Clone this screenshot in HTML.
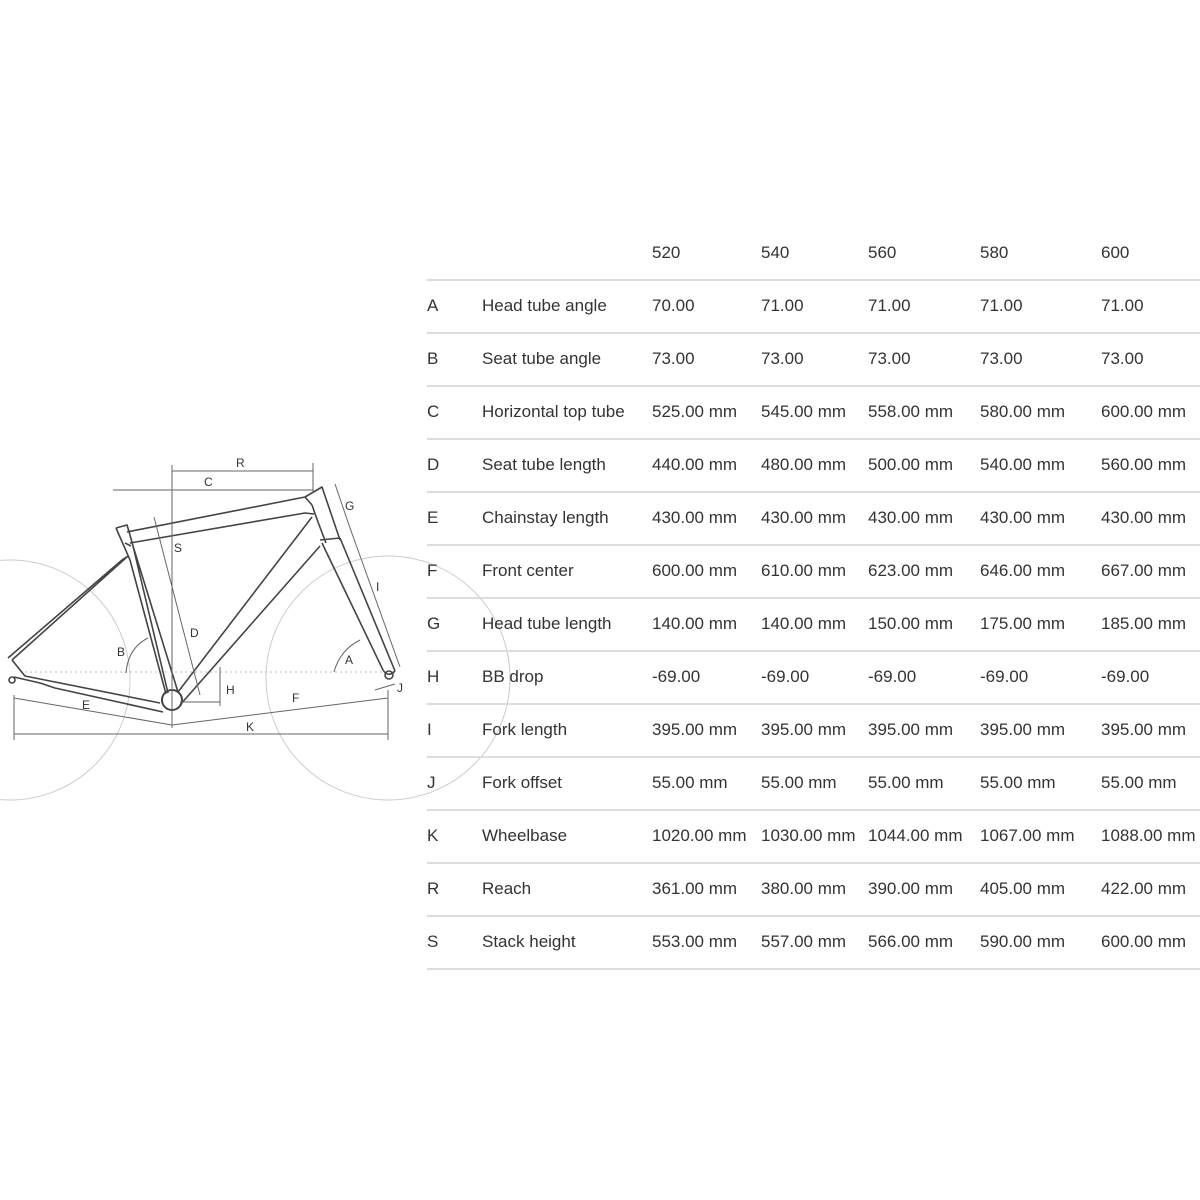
<!DOCTYPE html>
<html><head><meta charset="utf-8"><style>html,body{margin:0;padding:0;background:#fff}svg{display:block}</style></head>
<body>
<svg width="1200" height="1200" viewBox="0 0 1200 1200" xmlns="http://www.w3.org/2000/svg">
<g fill="none" stroke="#ccc" stroke-width="1">
<circle cx="10" cy="680" r="120"/>
<circle cx="388" cy="678" r="122"/>
</g>
<line x1="20" y1="672" x2="395" y2="672" stroke="#bbb" stroke-dasharray="2,3"/>
<g fill="none" stroke="#444" stroke-width="1.6" stroke-linejoin="round">
<!-- seat stay -->
<path d="M8,658 L122,560 L128,556 L12,660"/>
<!-- chainstay -->
<path d="M12,660 L25,676 L160,703 M14,677 L40,683 L55,688 L163,712"/>
<!-- seat tube -->
<path d="M116,528 L127,525 L130,535 L133,546 L168,693 M125,543 L131,546 M133,546 L178,692"/>
<path d="M116,528 L130,560 L166,694"/>
<!-- top tube -->
<path d="M127,532 L305,497 L312,505 M130,543 L305,513 L314,514"/>
<!-- head tube -->
<path d="M305,497 L322,487 L340,540 M312,505 L318,522 L326,543 M320,540 L340,538"/>
<!-- down tube -->
<path d="M178,692 L312,517 M180,705 L320,546"/>
<!-- fork -->
<path d="M322,543 L383,670 M340,538 L395,671 M383,670 Q388,678 395,671"/>
<circle cx="389" cy="675" r="4"/>
<circle cx="172" cy="700" r="10" stroke-width="2"/>
<circle cx="12" cy="680" r="3"/>
</g>
<g fill="none" stroke="#666" stroke-width="1">
<line x1="172" y1="465" x2="172" y2="728"/>
<line x1="172" y1="471" x2="313" y2="471"/>
<line x1="313" y1="463" x2="313" y2="492"/>
<line x1="113" y1="490" x2="313" y2="490"/>
<line x1="14" y1="695" x2="14" y2="740"/>
<line x1="388" y1="690" x2="388" y2="740"/>
<line x1="14" y1="734" x2="388" y2="734"/>
<line x1="14" y1="698" x2="172" y2="725"/>
<line x1="172" y1="725" x2="388" y2="698"/>
<line x1="154" y1="517" x2="200" y2="695"/>
<line x1="220" y1="667" x2="220" y2="706"/>
<line x1="180" y1="702" x2="220" y2="702"/>
<line x1="335" y1="484" x2="350" y2="528"/>
<line x1="350" y1="528" x2="400" y2="667"/>
<line x1="375" y1="690" x2="395" y2="684"/>
<path d="M126,673 Q128,648 148,638"/>
<path d="M334,672 Q340,650 360,640"/>
</g>
<g font-family="Liberation Sans, sans-serif" font-size="12" fill="#333">
<text x="236" y="467">R</text><text x="204" y="486">C</text><text x="345" y="510">G</text>
<text x="174" y="552">S</text><text x="376" y="591">I</text><text x="190" y="637">D</text>
<text x="117" y="656">B</text><text x="345" y="664">A</text><text x="226" y="694">H</text>
<text x="292" y="702">F</text><text x="397" y="692">J</text><text x="82" y="709">E</text>
<text x="246" y="731">K</text>
</g>
<g stroke="#ddd" stroke-width="2">
<line x1="427" y1="280" x2="1200" y2="280"/><line x1="427" y1="333" x2="1200" y2="333"/>
<line x1="427" y1="386" x2="1200" y2="386"/><line x1="427" y1="439" x2="1200" y2="439"/>
<line x1="427" y1="492" x2="1200" y2="492"/><line x1="427" y1="545" x2="1200" y2="545"/>
<line x1="427" y1="598" x2="1200" y2="598"/><line x1="427" y1="651" x2="1200" y2="651"/>
<line x1="427" y1="704" x2="1200" y2="704"/><line x1="427" y1="757" x2="1200" y2="757"/>
<line x1="427" y1="810" x2="1200" y2="810"/><line x1="427" y1="863" x2="1200" y2="863"/>
<line x1="427" y1="916" x2="1200" y2="916"/><line x1="427" y1="969" x2="1200" y2="969"/>
</g>
<g font-family="Liberation Sans, sans-serif" font-size="17" fill="#333">
<text y="258"><tspan x="652">520</tspan><tspan x="761">540</tspan><tspan x="868">560</tspan><tspan x="980">580</tspan><tspan x="1101">600</tspan></text>
<text y="311"><tspan x="427">A</tspan><tspan x="482">Head tube angle</tspan><tspan x="652">70.00</tspan><tspan x="761">71.00</tspan><tspan x="868">71.00</tspan><tspan x="980">71.00</tspan><tspan x="1101">71.00</tspan></text>
<text y="364"><tspan x="427">B</tspan><tspan x="482">Seat tube angle</tspan><tspan x="652">73.00</tspan><tspan x="761">73.00</tspan><tspan x="868">73.00</tspan><tspan x="980">73.00</tspan><tspan x="1101">73.00</tspan></text>
<text y="417"><tspan x="427">C</tspan><tspan x="482">Horizontal top tube</tspan><tspan x="652">525.00 mm</tspan><tspan x="761">545.00 mm</tspan><tspan x="868">558.00 mm</tspan><tspan x="980">580.00 mm</tspan><tspan x="1101">600.00 mm</tspan></text>
<text y="470"><tspan x="427">D</tspan><tspan x="482">Seat tube length</tspan><tspan x="652">440.00 mm</tspan><tspan x="761">480.00 mm</tspan><tspan x="868">500.00 mm</tspan><tspan x="980">540.00 mm</tspan><tspan x="1101">560.00 mm</tspan></text>
<text y="523"><tspan x="427">E</tspan><tspan x="482">Chainstay length</tspan><tspan x="652">430.00 mm</tspan><tspan x="761">430.00 mm</tspan><tspan x="868">430.00 mm</tspan><tspan x="980">430.00 mm</tspan><tspan x="1101">430.00 mm</tspan></text>
<text y="576"><tspan x="427">F</tspan><tspan x="482">Front center</tspan><tspan x="652">600.00 mm</tspan><tspan x="761">610.00 mm</tspan><tspan x="868">623.00 mm</tspan><tspan x="980">646.00 mm</tspan><tspan x="1101">667.00 mm</tspan></text>
<text y="629"><tspan x="427">G</tspan><tspan x="482">Head tube length</tspan><tspan x="652">140.00 mm</tspan><tspan x="761">140.00 mm</tspan><tspan x="868">150.00 mm</tspan><tspan x="980">175.00 mm</tspan><tspan x="1101">185.00 mm</tspan></text>
<text y="682"><tspan x="427">H</tspan><tspan x="482">BB drop</tspan><tspan x="652">-69.00</tspan><tspan x="761">-69.00</tspan><tspan x="868">-69.00</tspan><tspan x="980">-69.00</tspan><tspan x="1101">-69.00</tspan></text>
<text y="735"><tspan x="427">I</tspan><tspan x="482">Fork length</tspan><tspan x="652">395.00 mm</tspan><tspan x="761">395.00 mm</tspan><tspan x="868">395.00 mm</tspan><tspan x="980">395.00 mm</tspan><tspan x="1101">395.00 mm</tspan></text>
<text y="788"><tspan x="427">J</tspan><tspan x="482">Fork offset</tspan><tspan x="652">55.00 mm</tspan><tspan x="761">55.00 mm</tspan><tspan x="868">55.00 mm</tspan><tspan x="980">55.00 mm</tspan><tspan x="1101">55.00 mm</tspan></text>
<text y="841"><tspan x="427">K</tspan><tspan x="482">Wheelbase</tspan><tspan x="652">1020.00 mm</tspan><tspan x="761">1030.00 mm</tspan><tspan x="868">1044.00 mm</tspan><tspan x="980">1067.00 mm</tspan><tspan x="1101">1088.00 mm</tspan></text>
<text y="894"><tspan x="427">R</tspan><tspan x="482">Reach</tspan><tspan x="652">361.00 mm</tspan><tspan x="761">380.00 mm</tspan><tspan x="868">390.00 mm</tspan><tspan x="980">405.00 mm</tspan><tspan x="1101">422.00 mm</tspan></text>
<text y="947"><tspan x="427">S</tspan><tspan x="482">Stack height</tspan><tspan x="652">553.00 mm</tspan><tspan x="761">557.00 mm</tspan><tspan x="868">566.00 mm</tspan><tspan x="980">590.00 mm</tspan><tspan x="1101">600.00 mm</tspan></text>
</g>
</svg>
</body></html>
